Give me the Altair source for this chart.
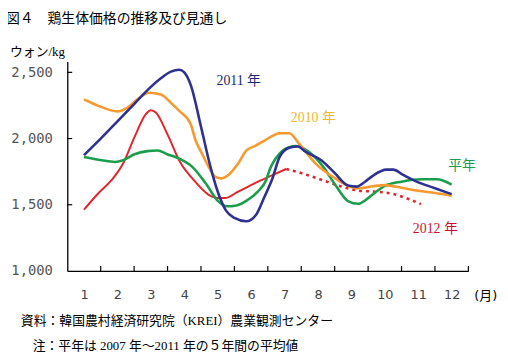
import altair as alt
import pandas as pd

# ---- data ----
m2011 = [1.0, 1.5, 2.0, 2.5, 3.0, 3.3, 3.6, 3.85, 4.0, 4.2, 4.5, 4.78, 5.0, 5.25, 5.5, 5.85,
         6.15, 6.4, 6.64, 6.85, 7.14, 7.4, 7.63, 8.1, 8.5, 8.9, 9.15, 9.4, 9.65, 10.05, 10.25,
         10.55, 10.95, 11.5, 12.0]
v2011 = [1875, 2000, 2130, 2260, 2390, 2455, 2505, 2520, 2500, 2400, 2090, 1790, 1600, 1455, 1400, 1375,
         1425, 1560, 1700, 1860, 1930, 1940, 1900, 1836, 1740, 1645, 1637, 1672, 1720, 1765, 1765,
         1725, 1675, 1625, 1580]

m2010 = [1.0, 1.45, 2.0, 2.3, 2.6, 2.95, 3.3, 3.64, 3.85, 4.19, 4.34, 4.53, 4.73, 4.93, 5.12, 5.32,
         5.61, 5.86, 6.15, 6.4, 6.64, 6.85, 7.14, 7.44, 7.93, 8.52, 8.91, 9.2, 9.65, 10.0, 10.5,
         11.0, 11.5, 12.0]
v2010 = [2296, 2245, 2205, 2234, 2296, 2346, 2333, 2260, 2209, 2110, 1985, 1886, 1786, 1711, 1699, 1724,
         1811, 1910, 1948, 1985, 2020, 2040, 2040, 1960, 1811, 1699, 1642, 1624, 1640, 1648, 1628,
         1605, 1588, 1568]

m2012 = [1.0, 1.43, 1.83, 2.17, 2.51, 2.85, 3.0, 3.15, 3.49, 3.9, 4.24, 4.73, 5.02, 5.22, 5.61,
         6.1, 6.64, 7.05]
v2012 = [1463, 1587, 1687, 1811, 2010, 2184, 2214, 2197, 2035, 1811, 1699, 1575, 1550, 1550, 1599,
         1662, 1724, 1770]

m2012f = [7.05, 7.54, 8.12, 8.71, 9.2, 9.6, 10.15, 10.64, 11.08]
v2012f = [1770, 1736, 1687, 1637, 1607, 1600, 1587, 1550, 1505]

mavg = [1.0, 1.53, 1.92, 2.17, 2.51, 2.9, 3.2, 3.49, 3.85, 4.24, 4.64, 5.02, 5.27, 5.56, 5.9,
        6.2, 6.45, 6.55, 6.64, 6.85, 7.14, 7.34, 7.63, 8.12, 8.52, 8.91, 9.2, 9.5, 9.75, 10.0,
        10.5, 11.1, 11.55, 12.0]
vavg = [1861, 1836, 1823, 1836, 1881, 1905, 1910, 1881, 1848, 1786, 1662, 1525, 1488, 1495, 1537,
        1599, 1687, 1761, 1810, 1886, 1935, 1943, 1916, 1799, 1649, 1525, 1507, 1550, 1600, 1642,
        1674, 1692, 1692, 1652]

months = list(range(1, 13))
month_bounds = [1.5, 2.5, 3.5, 4.5, 5.5, 6.5, 7.5, 8.5, 9.5, 10.5, 11.5, 12.5]
y_ticks = [1000, 1500, 2000, 2500]
y_inner_ticks = [1500, 2000, 2500]

title_text = "図４　鶏生体価格の推移及び見通し"
unit_text = "ウォン/kg"
month_unit = "(月)"
source_text = "資料：韓国農村経済研究院（KREI）農業観測センター"
note_text = "注：平年は 2007 年～2011 年の５年間の平均値"
lab2011, lab2010, labavg, lab2012 = "2011 年", "2010 年", "平年", "2012 年"

W, H = 406, 212
SERIF = "Liberation Serif, Noto Sans CJK JP"
SANS = "DejaVu Sans"

xs = alt.Scale(domain=[0.5, 12.5], nice=False, zero=False)
ys = alt.Scale(domain=[1000, 2582], nice=False, zero=False)

X_AXIS = alt.Axis(values=months, title=None, tickSize=0, grid=False,
                  labelPadding=18, labelFontSize=13, labelFont=SANS,
                  labelColor="#444", domainColor="#000", domainWidth=1.3)
Y_AXIS = alt.Axis(values=y_ticks, format=",.0f", title=None, tickSize=0,
                  grid=False, labelPadding=15, labelFontSize=14,
                  labelFont="DejaVu Sans Mono", labelColor="#555",
                  domainColor="#000", domainWidth=1.3)


def X():
    return alt.X("month:Q", scale=xs, axis=X_AXIS)


def Y():
    return alt.Y("value:Q", scale=ys, axis=Y_AXIS)


def line(ms, vs, color, width=2.6, dash=None):
    df = pd.DataFrame({"month": ms, "value": vs})
    kw = dict(color=color, strokeWidth=width, interpolate="monotone")
    if dash:
        kw["strokeDash"] = dash
    return alt.Chart(df).mark_line(**kw).encode(x=X(), y=Y())


xt = alt.Chart(pd.DataFrame({"month": month_bounds})).mark_rule(color="#000", strokeWidth=1.2).encode(
    x=X(), y=alt.value(H), y2=alt.value(H - 5))
yt = alt.Chart(pd.DataFrame({"value": y_inner_ticks})).mark_rule(color="#000", strokeWidth=1.2).encode(
    y=Y(), x=alt.value(0), x2=alt.value(5))


def txt(s, x, y, size=13, color="#000", font=SERIF, align="left"):
    return alt.Chart(pd.DataFrame({"t": [s]})).mark_text(
        align=align, baseline="middle", fontSize=size, font=font, color=color
    ).encode(text="t:N", x=alt.value(x), y=alt.value(y))


layers = [
    xt, yt,
    line(m2012, v2012, "#e2262e", 2.0),
    line(m2012f, v2012f, "#e2262e", 2.6, [3, 4]),
    line(mavg, vavg, "#1b9e4b"),
    line(m2010, v2010, "#f7992f"),
    line(m2011, v2011, "#2e3192"),
    txt(title_text, -62, -43, 14),
    txt(unit_text, -58, -10, 13),
    txt(month_unit, 412, 237, 13, font=SANS + ", Noto Sans CJK JP"),
    txt(source_text, -47, 263, 13),
    txt(note_text, -35, 288, 13),
    txt(lab2011, 173.5, 20, 14, "#1c2a6b", align="center"),
    txt(lab2010, 249, 57, 14, "#f2b630", align="center"),
    txt(labavg, 399.5, 106, 14, "#1e9a50", align="center"),
    txt(lab2012, 372.5, 170, 14, "#c8102e", align="center"),
]

chart = alt.layer(*layers).properties(
    width=W, height=H,
    autosize=alt.AutoSizeParams(type="none"),
    padding={"left": 60, "top": 52, "right": 32, "bottom": 86},
).configure_view(stroke=None)

chart.save("out.html", embed_options={"renderer": "svg", "actions": False})
